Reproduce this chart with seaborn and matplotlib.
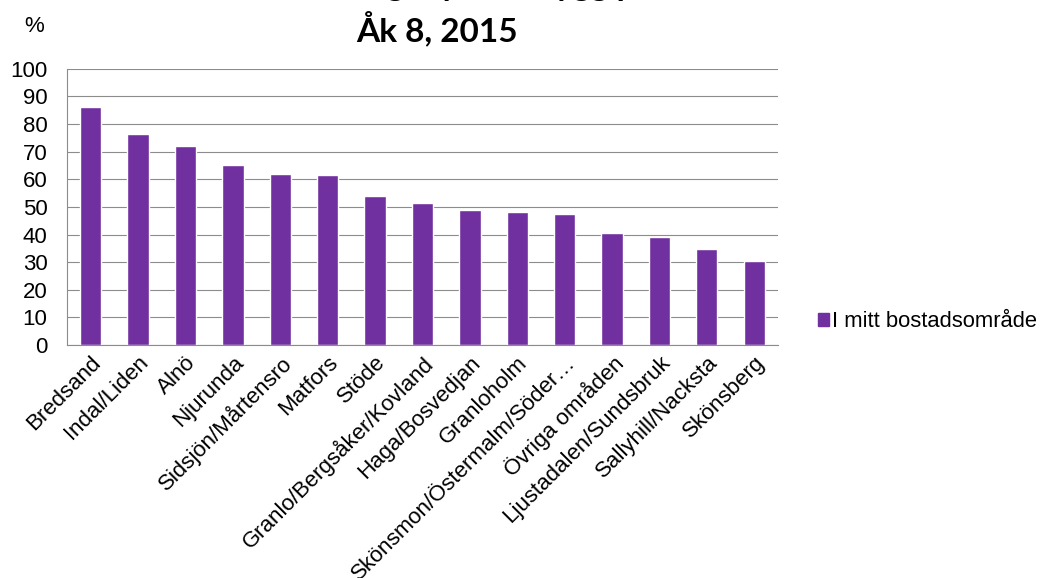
import matplotlib
matplotlib.use("Agg")
import matplotlib.pyplot as plt
import matplotlib.patches as mpatches
from matplotlib.ticker import FixedLocator
import seaborn as sns
import pandas as pd

# data
areas = ["Bredsand", "Indal/Liden", "Alnö", "Njurunda", "Sidsjön/Mårtensro",
         "Matfors", "Stöde", "Granlo/Bergsåker/Kovland", "Haga/Bosvedjan",
         "Granloholm", "Skönsmon/Östermalm/Söder…", "Övriga områden",
         "Ljustadalen/Sundsbruk", "Sallyhill/Nacksta", "Skönsberg"]
percent = [86, 76.5, 72, 65, 62, 61.5, 54, 51.5, 49, 48.3, 47.5, 40.6, 39.2, 34.6, 30.5]
series_name = "I mitt bostadsområde"
yticks = list(range(0, 101, 10))

bar_color = "#7030A0"
grid_color = "#8c8c8c"

sns.set_style("white")
plt.rcParams['font.family'] = ['Liberation Sans', 'DejaVu Sans']
plt.rcParams['text.color'] = 'black'
plt.rcParams['xtick.color'] = 'black'
plt.rcParams['ytick.color'] = 'black'

df = pd.DataFrame({"Område": areas, "Andel": percent})

fig = plt.figure(figsize=(10.47, 5.78), dpi=100)
ax = fig.add_axes([0.064, 0.403, 0.679, 0.478])

sns.barplot(data=df, x="Område", y="Andel", color=bar_color, width=0.45,
            saturation=1, ax=ax)

ax.set_ylim(0, 100)
ax.set_xlim(-0.5, len(areas) - 0.5)
ax.set_yticks(yticks)
ax.yaxis.grid(True, color=grid_color, linewidth=0.8)
ax.set_axisbelow(True)
ax.set_xlabel("")
ax.set_ylabel("")

for s in ["top", "right"]:
    ax.spines[s].set_visible(False)
for s in ["left", "bottom"]:
    ax.spines[s].set_color(grid_color)
    ax.spines[s].set_linewidth(0.8)

# category boundary tick marks like Excel
ax.xaxis.set_minor_locator(FixedLocator([i - 0.5 for i in range(len(areas) + 1)]))
ax.tick_params(axis="x", which="major", length=0, pad=5)
ax.tick_params(axis="x", which="minor", length=6, color=grid_color, width=0.8)
ax.tick_params(axis="y", length=6, color=grid_color, width=0.8, labelsize=16,
               pad=8, labelcolor="black")
ax.set_xticks(range(len(areas)))
ax.set_xticklabels(areas, rotation=45, ha="right", rotation_mode="anchor",
                   fontsize=16, color="black")

# legend to the right
handle = mpatches.Patch(color=bar_color, label=series_name)
fig.legend(handles=[handle], loc="center left", bbox_to_anchor=(0.762, 0.443),
           frameon=False, fontsize=15.8, handlelength=0.5, handleheight=0.5,
           handletextpad=0.15, labelcolor="black")

# title (first line cut at the top edge as in the original)
fig.text(0.417, 1.007, "Andel som känner sig mycket trygg på kvällstid",
         ha="center", va="baseline", fontsize=24, fontweight="bold",
         family=["Lato", "DejaVu Sans"])
fig.text(0.417, 0.950, "Åk 8, 2015", ha="center", va="center", fontsize=24,
         fontweight="bold", family=["Lato", "DejaVu Sans"])
fig.text(0.033, 0.955, "%", ha="center", va="center", fontsize=16)

fig.savefig("out.png", dpi=100)
